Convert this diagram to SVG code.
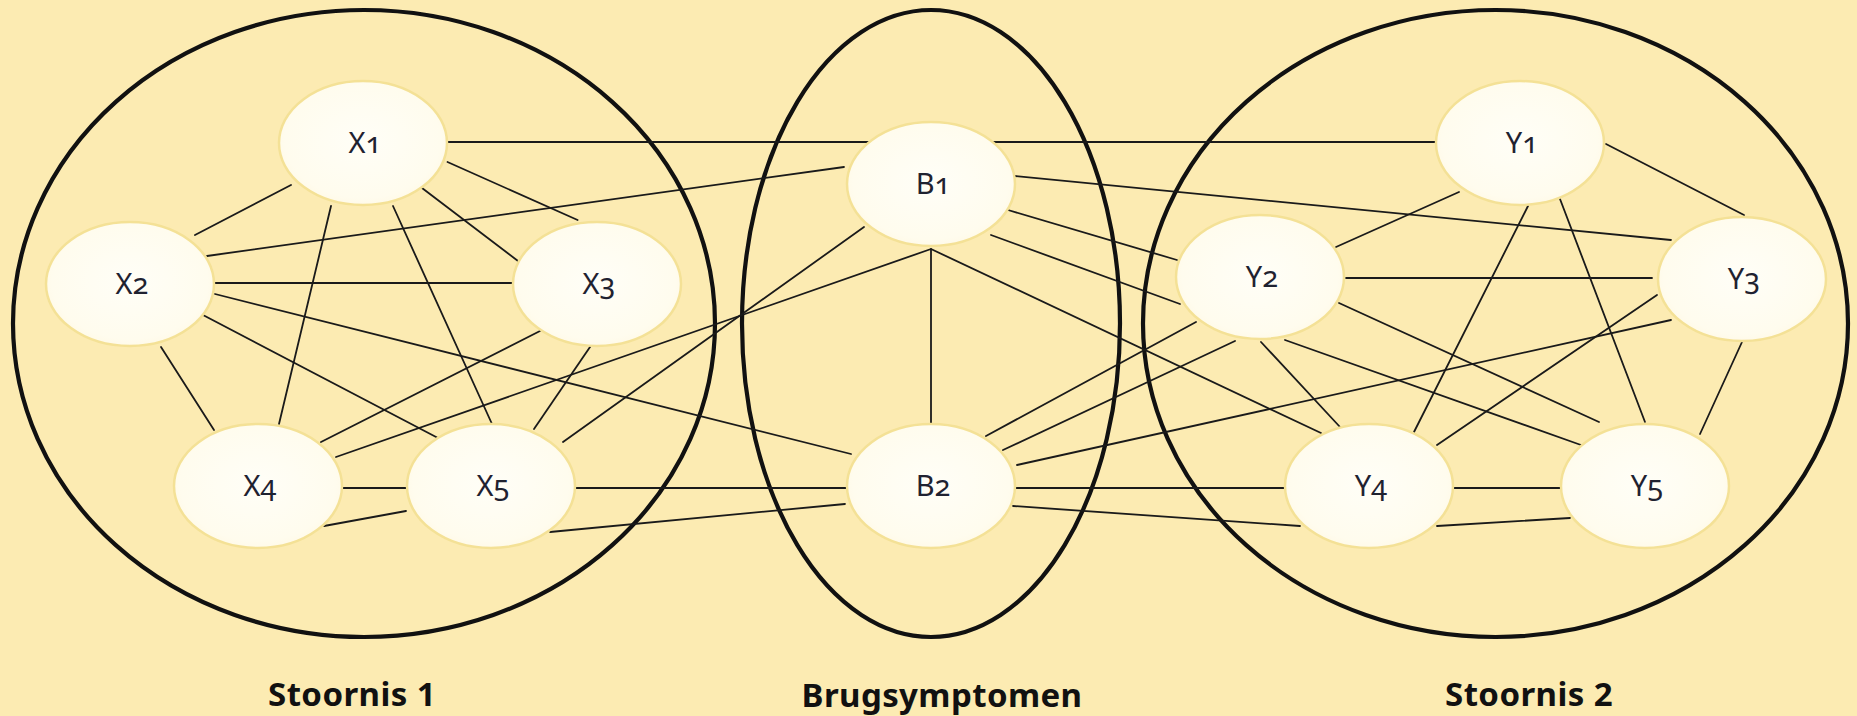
<svg xmlns="http://www.w3.org/2000/svg" width="1857" height="716" viewBox="0 0 1857 716">
  <defs>
    <radialGradient id="nodeFill" cx="50%" cy="48%" r="58%">
      <stop offset="0%" stop-color="#FFFEF7"/>
      <stop offset="80%" stop-color="#FFFCEE"/>
      <stop offset="100%" stop-color="#FFF8E2"/>
    </radialGradient>
  </defs>
  <style>
    .group { fill: none; stroke: #111; stroke-width: 4.2; }
    .edge { stroke: #1a1a1a; stroke-width: 1.8; fill: none; stroke-linecap: round; }
    .node ellipse { fill: url(#nodeFill); stroke: #F4E196; stroke-width: 2.5; }
    .node text { font-family: "Noto Sans", "Open Sans", sans-serif; font-size: 29px; fill: #1f2230; text-anchor: middle; font-variant-numeric: oldstyle-nums; }
    .title { font-family: "Noto Sans", "Open Sans", sans-serif; font-weight: bold; font-size: 33px; fill: #111; text-anchor: middle; letter-spacing: 0.4px; }
  </style>

  <rect width="1857" height="716" fill="#FCEBB2"/>

  <!-- cluster outlines -->
  <g id="clusters">
    <ellipse class="group" cx="364" cy="323.5" rx="351" ry="313.5"/>
    <ellipse class="group" cx="931" cy="323.5" rx="189" ry="313.5"/>
    <ellipse class="group" cx="1495.5" cy="323.5" rx="352.5" ry="313.5"/>
  </g>

  <!-- connectors -->
  <g id="edges">
    <line class="edge" x1="447" y1="142" x2="872" y2="142"/>
    <line class="edge" x1="990" y1="142" x2="1437" y2="142"/>
    <line class="edge" x1="447.5" y1="162" x2="577.6" y2="220"/>
    <line class="edge" x1="422" y1="188" x2="518" y2="261"/>
    <line class="edge" x1="291" y1="185" x2="195" y2="235"/>
    <line class="edge" x1="331" y1="206" x2="279" y2="424"/>
    <line class="edge" x1="393" y1="206" x2="492" y2="424"/>
    <line class="edge" x1="207" y1="256" x2="844" y2="167"/>
    <line class="edge" x1="215" y1="283" x2="514" y2="283"/>
    <line class="edge" x1="215" y1="294" x2="851" y2="454"/>
    <line class="edge" x1="203" y1="315" x2="438" y2="438"/>
    <line class="edge" x1="161" y1="347" x2="214" y2="430"/>
    <line class="edge" x1="540" y1="331" x2="321" y2="442"/>
    <line class="edge" x1="590" y1="347" x2="534" y2="429"/>
    <line class="edge" x1="336" y1="457" x2="931" y2="249"/>
    <line class="edge" x1="563" y1="442" x2="864" y2="227"/>
    <line class="edge" x1="342" y1="488" x2="406" y2="488"/>
    <line class="edge" x1="324" y1="526" x2="406" y2="511"/>
    <line class="edge" x1="576" y1="488" x2="846" y2="488"/>
    <line class="edge" x1="550" y1="532" x2="845" y2="504"/>
    <line class="edge" x1="1015" y1="176" x2="1671" y2="240"/>
    <line class="edge" x1="1008" y1="210" x2="1177" y2="260"/>
    <line class="edge" x1="991" y1="235" x2="1180" y2="304"/>
    <line class="edge" x1="931" y1="249" x2="1321" y2="433"/>
    <line class="edge" x1="931" y1="250" x2="931" y2="423"/>
    <line class="edge" x1="986" y1="436" x2="1196" y2="322"/>
    <line class="edge" x1="1003" y1="450" x2="1235" y2="341"/>
    <line class="edge" x1="1017" y1="465" x2="1671" y2="320"/>
    <line class="edge" x1="1014" y1="488" x2="1286" y2="488"/>
    <line class="edge" x1="1013" y1="506" x2="1300" y2="526"/>
    <line class="edge" x1="1437" y1="526" x2="1570" y2="518"/>
    <line class="edge" x1="1606" y1="144" x2="1744" y2="215"/>
    <line class="edge" x1="1459" y1="192" x2="1336" y2="247"/>
    <line class="edge" x1="1528" y1="206" x2="1414" y2="432"/>
    <line class="edge" x1="1560" y1="199" x2="1645" y2="422"/>
    <line class="edge" x1="1346" y1="278" x2="1652" y2="278"/>
    <line class="edge" x1="1339" y1="303" x2="1599" y2="422"/>
    <line class="edge" x1="1261" y1="342" x2="1340" y2="427"/>
    <line class="edge" x1="1285" y1="340" x2="1581" y2="445"/>
    <line class="edge" x1="1657" y1="295" x2="1437" y2="445"/>
    <line class="edge" x1="1742" y1="342" x2="1700" y2="434"/>
    <line class="edge" x1="1454" y1="488" x2="1561" y2="488"/>
  </g>

  <!-- symptom nodes -->
  <g id="X1" class="node"><ellipse cx="363" cy="143" rx="84" ry="62"/><text x="365" y="153">X1</text></g>
  <g id="X2" class="node"><ellipse cx="130" cy="284" rx="84" ry="62"/><text x="132" y="294">X2</text></g>
  <g id="X3" class="node"><ellipse cx="597" cy="284" rx="84" ry="62"/><text x="599" y="294">X3</text></g>
  <g id="X4" class="node"><ellipse cx="258" cy="486" rx="84" ry="62"/><text x="260" y="496">X4</text></g>
  <g id="X5" class="node"><ellipse cx="491" cy="486" rx="84" ry="62"/><text x="493" y="496">X5</text></g>

  <g id="B1" class="node"><ellipse cx="931" cy="184" rx="84" ry="62"/><text x="933" y="194">B1</text></g>
  <g id="B2" class="node"><ellipse cx="931" cy="486" rx="84" ry="62"/><text x="933" y="496">B2</text></g>

  <g id="Y1" class="node"><ellipse cx="1520" cy="143" rx="84" ry="62"/><text x="1522" y="153">Y1</text></g>
  <g id="Y2" class="node"><ellipse cx="1260" cy="277" rx="84" ry="62"/><text x="1262" y="287">Y2</text></g>
  <g id="Y3" class="node"><ellipse cx="1742" cy="279" rx="84" ry="62"/><text x="1744" y="289">Y3</text></g>
  <g id="Y4" class="node"><ellipse cx="1369" cy="486" rx="84" ry="62"/><text x="1371" y="496">Y4</text></g>
  <g id="Y5" class="node"><ellipse cx="1645" cy="486" rx="84" ry="62"/><text x="1647" y="496">Y5</text></g>

  <!-- captions -->
  <g id="captions">
    <text class="title" x="352" y="706">Stoornis 1</text>
    <text class="title" x="942" y="707">Brugsymptomen</text>
    <text class="title" x="1529" y="706">Stoornis 2</text>
  </g>
</svg>
